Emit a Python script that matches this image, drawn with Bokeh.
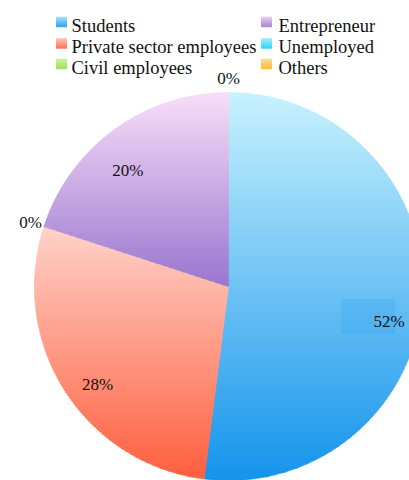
import math
from bokeh.plotting import figure
from bokeh.models import Range1d
from bokeh.core.properties import value
from bokeh.embed import file_html
from bokeh.resources import INLINE

# ---- data ----
categories = ["Students", "Private sector employees", "Civil employees",
              "Entrepreneur", "Unemployed", "Others"]
shares = [52, 28, 0, 20, 0, 0]
labels = ["52%", "28%", "0%", "20%", "0%", "0%"]
color_top = ["#c8f2fd", "#ffd2ca", "#d8f5b0", "#f9def9", "#b8f6ff", "#ffe4a8"]
color_bottom = ["#1594ec", "#ff5f3e", "#98dc50", "#9a76cf", "#12cff2", "#ffb22e"]

# ---- layout ----
W, H = 409, 480
CX, CY, R = 228.0, 286.0, 194.0
FONT = "Liberation Serif"
label_nudge = [(0, 25), (5, 12), (0, 0), (-6, 14), (0, 0), (0, 0)]

p = figure(width=W, height=H, x_range=Range1d(0, W), y_range=Range1d(H, 0),
           output_backend="svg", toolbar_location=None, min_border=0)
p.axis.visible = False
p.grid.visible = False
p.outline_line_color = None
p.background_fill_color = "white"


def hex2rgb(h):
    h = h.lstrip("#")
    return tuple(int(h[i:i + 2], 16) for i in (0, 2, 4))


def lerp(c0, c1, t):
    a, b = hex2rgb(c0), hex2rgb(c1)
    return "#%02x%02x%02x" % tuple(int(round(a[i] + (b[i] - a[i]) * t)) for i in range(3))


def clip_half(poly, yv, keep_below):
    out = []
    n = len(poly)
    for i in range(n):
        x1, y1 = poly[i]
        x2, y2 = poly[(i + 1) % n]
        in1 = (y1 >= yv) if keep_below else (y1 <= yv)
        in2 = (y2 >= yv) if keep_below else (y2 <= yv)
        if in1:
            out.append((x1, y1))
        if in1 != in2:
            t = (yv - y1) / (y2 - y1)
            out.append((x1 + t * (x2 - x1), yv))
    return out


def pt(a, rad):
    return CX + rad * math.sin(a), CY - rad * math.cos(a)


total = float(sum(shares))
xs, ys, cols = [], [], []
starts, ends = [], []
acc = 0.0
for i, v in enumerate(shares):
    a0 = acc / total * 2 * math.pi
    acc += v
    a1 = acc / total * 2 * math.pi
    starts.append(a0)
    ends.append(a1)
    if v <= 0:
        continue
    nseg = max(8, int(400 * (a1 - a0) / (2 * math.pi)))
    poly = [(CX, CY)] + [pt(a0 + (a1 - a0) * k / nseg, R) for k in range(nseg + 1)]
    ymin = min(q[1] for q in poly)
    ymax = max(q[1] for q in poly)
    nb = 90
    h = (ymax - ymin) / nb
    for b in range(nb):
        y0 = ymin + b * h
        y1 = y0 + h + 0.6
        part = clip_half(poly, y0, True)
        part = clip_half(part, y1, False)
        if len(part) < 3:
            continue
        xs.append([q[0] for q in part])
        ys.append([q[1] for q in part])
        cols.append(lerp(color_top[i], color_bottom[i], (b + 0.5) / nb))

p.patches(xs, ys, fill_color=cols, line_color=cols, line_width=0.6)

# ---- slice labels ----
lx, ly, lt = [], [], []
seen = set()
for i, v in enumerate(shares):
    mid = (starts[i] + ends[i]) / 2
    if v <= 0:
        x, y = pt(mid, R + 14)
    else:
        x, y = pt(mid, R * 0.83)
    x += label_nudge[i][0]
    y += label_nudge[i][1]
    key = (round(x), round(y))
    if key in seen:  # coincident labels are drawn once
        continue
    seen.add(key)
    lx.append(x)
    ly.append(y)
    lt.append(labels[i])
    if i == shares.index(max(shares)):
        big_xy = (x, y)

# faint box behind the largest slice's label
big = shares.index(max(shares))
p.rect(x=[big_xy[0] - 21], y=[big_xy[1] - 5], width=54, height=35,
       fill_color=color_bottom[big], fill_alpha=0.16, line_color=None)

p.text(x=lx, y=ly, text=lt, text_font=value(FONT), text_font_size="17px",
       text_align="center", text_baseline="middle", text_color="#111111")

# ---- legend ----
ncols = 3
leg_x_marker = [61, 266]
leg_x_text = [71, 278]
row_base = [25, 46.5, 67]
mx, my, mcol = [], [], []
tx, ty, tt = [], [], []
for i, name in enumerate(categories):
    c = i // ncols
    r = i % ncols
    yc = row_base[r] - 3.5
    nb = 5
    for b in range(nb):
        mx.append(leg_x_marker[c])
        my.append(yc - 5 + (b + 0.5) * 10 / nb)
        mcol.append(lerp(color_top[i], color_bottom[i], 0.15 + 0.7 * (b + 0.5) / nb))
    tx.append(leg_x_text[c])
    ty.append(row_base[r])
    tt.append(name)

p.rect(x=mx, y=my, width=11, height=10 / 5 + 0.3, fill_color=mcol, line_color=None)
p.text(x=tx, y=ty, text=tt, text_font=value(FONT), text_font_size="18.5px",
       text_align="left", text_baseline="alphabetic", text_color="#111111")

open("out.html", "w").write(file_html(p, INLINE))
